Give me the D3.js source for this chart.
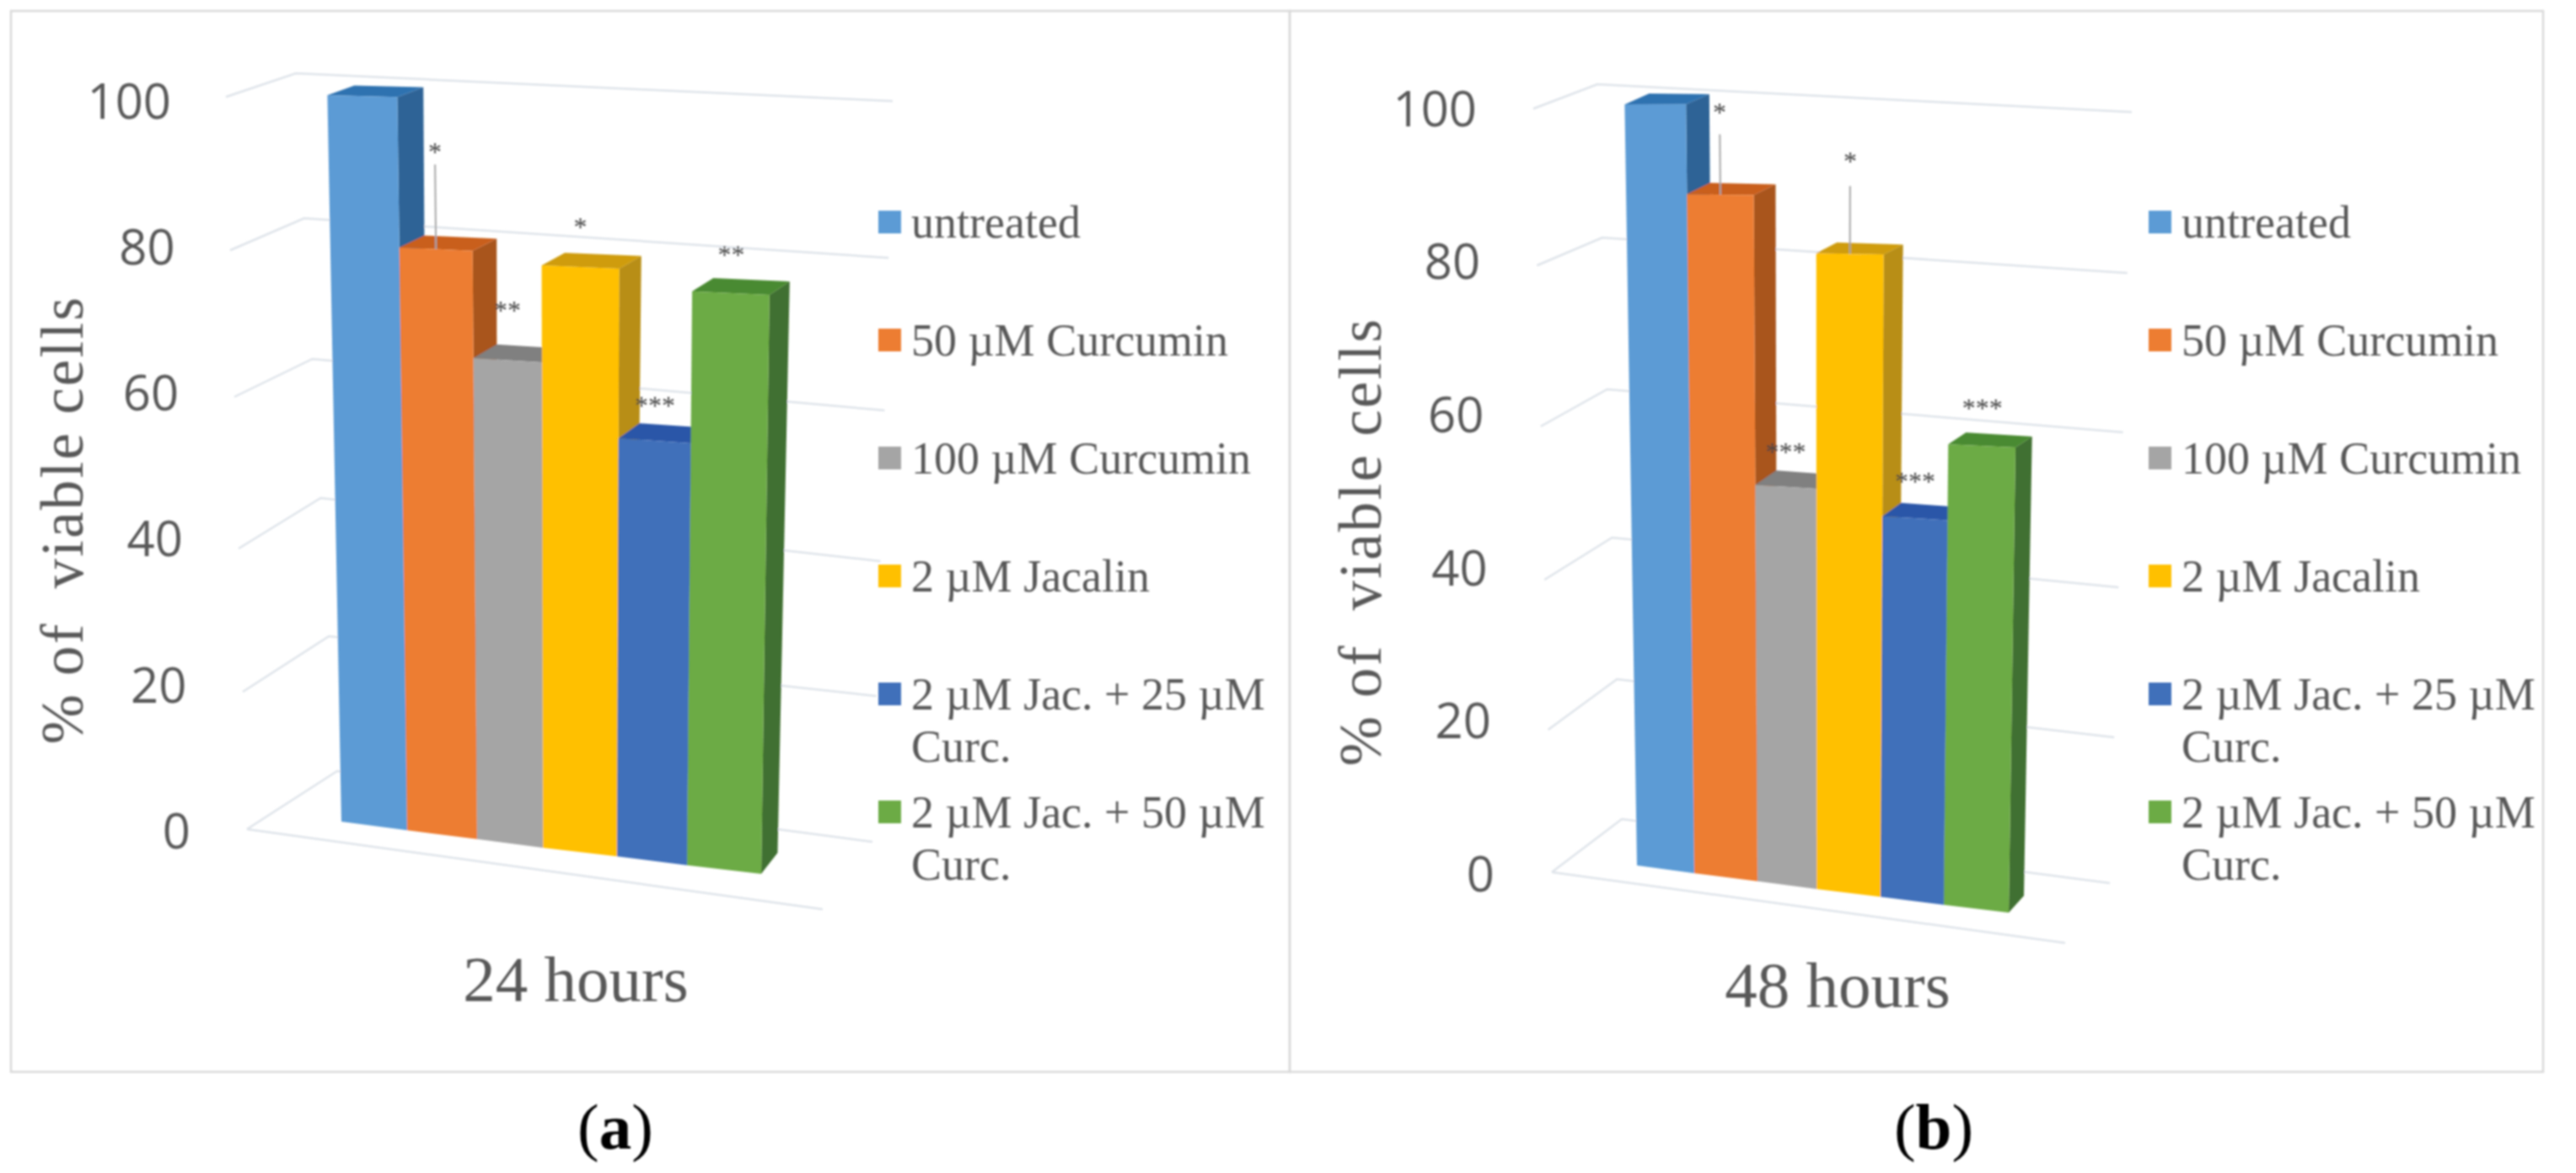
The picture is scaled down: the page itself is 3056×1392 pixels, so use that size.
<!DOCTYPE html>
<html><head><meta charset="utf-8">
<script src="https://cdn.jsdelivr.net/npm/d3@7/dist/d3.min.js"></script>
<style>html,body{margin:0;padding:0;background:#fff;overflow:hidden}svg{display:block}text{white-space:pre}</style>
</head><body><div id="chart"></div>
<script>
const categories = ["untreated","50 µM Curcumin","100 µM Curcumin","2 µM Jacalin","2 µM Jac. + 25 µM\nCurc.","2 µM Jac. + 50 µM\nCurc."];
const colors = ["#5b9bd5","#ed7d31","#a5a5a5","#ffc000","#3f6fba","#6cab45"];
const sideColors = ["#2f6496","#a9551d","#7d7d7d","#b88e14","#2b5499","#417030"];
const topColors = ["#2f72b0","#c95f1c","#808080","#cf9c10","#2c57a8","#4a8a30"];
const valueTicks = [0,20,40,60,80,100];
const values24 = [100,79.5,65,78,55.5,75.5];
const values48 = [100,88.3,51,81,48,57.5];
const stars24 = ["","*","**","*","***","**"];
const stars48 = ["","*","***","*","***","***"];
const starLift24 = [0,13.5,7,5.7,5,5.3];
const starLift48 = [0,11,4.8,12,4.9,5];
const errors24 = [0,11.5,0,0,0,0];
const errors48 = [0,7.8,0,8.6,0,0];
const groupLabels = ["24 hours","48 hours"];
const panelLetters = ["a","b"];

const W=3056,H=1392, GREY="#595959", SERIF="'Liberation Serif',serif", SANS="'Open Sans',sans-serif";
const svg=d3.select("#chart").append("svg").attr("width",W).attr("height",H).attr("viewBox",`0 0 ${W} ${H}`);
const defs=svg.append("defs");
defs.append("filter").attr("id","soft").attr("x","-2%").attr("y","-2%").attr("width","104%").attr("height","104%")
  .append("feGaussianBlur").attr("stdDeviation",1.1);
svg.append("rect").attr("width",W).attr("height",H).attr("fill","#fff");
const root=svg.append("g").attr("filter","url(#soft)");

const lin=(d,r)=>d3.scaleLinear().domain(d).range(r);
const idx=[0,6], pct=[0,100], edges=d3.range(7);
const panels=[
 {values:values24,stars:stars24,lift:starLift24,err:errors24,label:groupLabels[0],letter:panelLetters[0],
  frame:[13,13,1530,1272],
  xBase:lin(edges,[405,483,566,644,732,815,903]),yBase:lin(idx,[975,1037]),unit:lin(idx,[8.62,9.1]),lean:lin(idx,[-16.6,13]),
  dx:lin(idx,[26,19.5]),dxV:.06,dy:lin(idx,[-23.5,-25]),dyV:.12,
  lfx:lin(pct,[293,268]),lfy:lin(valueTicks,[984,821,651,471,297,115]),lbx:lin(pct,[400,351]),lby:lin(valueTicks,[915,755,591,426,259,87]),
  rbx:lin(pct,[1035,1059]),rby:lin(valueTicks,[999,826,666,487,306,120]),floorEnd:[976,1079],
  tickX:lin(pct,[226,203]),tickY:lin(pct,[986,120]),
  titleX:98,titleY:617,swX:1042,legX:1081,catX:683,catY:1163,letX:730},
 {values:values48,stars:stars48,lift:starLift48,err:errors48,label:groupLabels[1],letter:panelLetters[1],
  frame:[1530,13,3017,1272],
  xBase:lin(edges,[1942,2010,2085,2155,2231,2306,2383]),yBase:lin(idx,[1027,1083]),unit:lin(idx,[9.03,9.6]),lean:lin(idx,[-14.6,13.9]),
  dx:lin(idx,[26,18]),dxV:.03,dy:lin(idx,[-25,-20]),dyV:.12,
  lfx:lin(pct,[1841,1819]),lfy:lin(valueTicks,[1035,866,688,506,315,129]),lbx:lin(pct,[1924,1895]),lby:lin(valueTicks,[972,806,638,462,282,100]),
  rbx:lin(pct,[2503,2529]),rby:lin(valueTicks,[1048,875,697,513,324,133]),floorEnd:[2450,1119],
  tickX:lin(pct,[1773,1752]),tickY:lin(pct,[1037,129]),
  titleX:1638,titleY:643,swX:2549,legX:2588,catX:2180,catY:1170,letX:2294}
];
const legendRows=lin([0,5],[264,964]);
const line=d3.line();

panels.forEach(p=>{
 const g=root.append("g");
 g.append("rect").attr("x",p.frame[0]).attr("y",p.frame[1]).attr("width",p.frame[2]-p.frame[0]).attr("height",p.frame[3]-p.frame[1])
  .attr("fill","none").attr("stroke","#d9d9d9").attr("stroke-width",2.5);
 g.selectAll("path.grid").data(valueTicks).join("path").attr("class","grid")
  .attr("d",v=>line([[p.lfx(v),p.lfy(v)],[p.lbx(v),p.lby(v)],[p.rbx(v),p.rby(v)]]))
  .attr("fill","none").attr("stroke","#dfe4ea").attr("stroke-width",2.5);
 g.append("path").attr("d",line([[p.lfx(0),p.lfy(0)],p.floorEnd])).attr("fill","none").attr("stroke","#dfe4ea").attr("stroke-width",2.5);
 g.selectAll("text.tick").data(valueTicks).join("text").attr("class","tick")
  .attr("x",v=>p.tickX(v)).attr("y",v=>p.tickY(v)).attr("dy","0.36em").attr("text-anchor","end")
  .attr("font-family",SANS).attr("font-size",58).attr("fill",GREY).text(d=>d);
 g.append("text").attr("transform",`translate(${p.titleX},${p.titleY}) rotate(-90)`).attr("text-anchor","middle")
  .attr("font-family",SERIF).attr("font-size",71).attr("letter-spacing",2.2).attr("fill",GREY).text("% of  viable cells");
 const proj=(i,v,z)=>{
   const x=p.xBase(i)+p.lean(i)*v/100+z*(p.dx(i)+p.dxV*v);
   const y=p.yBase(i)-p.unit(i)*v+z*(p.dy(i)+p.dyV*v);
   return [x,y];
 };
 const bars=g.selectAll("g.bar").data(p.values).join("g").attr("class","bar");
 bars.append("path").attr("d",(v,i)=>line([proj(i+1,0,0),proj(i+1,v,0),proj(i+1,v,1),proj(i+1,0,1)])+"Z").attr("fill",(v,i)=>sideColors[i]);
 bars.append("path").attr("d",(v,i)=>line([proj(i,v,0),proj(i+1,v,0),proj(i+1,v,1),proj(i,v,1)])+"Z").attr("fill",(v,i)=>topColors[i]);
 bars.append("path").attr("d",(v,i)=>line([proj(i,0,0),proj(i+1,0,0),proj(i+1,v,0),proj(i,v,0)])+"Z").attr("fill",(v,i)=>colors[i]);
 g.selectAll("path.err").data(p.values.map((v,i)=>({v,i})).filter(d=>p.err[d.i]>0)).join("path").attr("class","err")
  .attr("d",d=>line([proj(d.i+.5,d.v,0),proj(d.i+.5,d.v+p.err[d.i],0)])).attr("stroke","#a6a6a6").attr("stroke-width",2);
 g.selectAll("text.star").data(p.values.map((v,i)=>({v,i})).filter(d=>p.stars[d.i])).join("text").attr("class","star")
  .attr("x",d=>proj(d.i+.5,d.v+p.lift[d.i],0)[0]).attr("y",d=>proj(d.i+.5,d.v+p.lift[d.i],0)[1]).attr("dy","0.42em")
  .attr("text-anchor","middle").attr("font-family",SERIF).attr("font-size",32).attr("fill","#444").text(d=>p.stars[d.i]);
 const leg=g.selectAll("g.leg").data(categories).join("g").attr("class","leg");
 leg.append("rect").attr("x",p.swX).attr("y",(d,i)=>legendRows(i)-14).attr("width",27).attr("height",27).attr("fill",(d,i)=>colors[i]);
 leg.each(function(d,i){
  d.split("\n").forEach((s,k)=>d3.select(this).append("text").attr("x",p.legX).attr("y",legendRows(i)+k*62).attr("dy","0.33em")
   .attr("font-family",SERIF).attr("font-size",54).attr("fill",GREY).text(s));
 });
 g.append("text").attr("x",p.catX).attr("y",p.catY).attr("dy","0.33em").attr("text-anchor","middle")
  .attr("font-family",SERIF).attr("font-size",77).attr("fill",GREY).text(p.label);
 const t=g.append("text").attr("x",p.letX).attr("y",1363).attr("text-anchor","middle").attr("font-family",SERIF).attr("font-size",77).attr("fill","#000");
 t.append("tspan").text("(");t.append("tspan").attr("font-weight","bold").text(p.letter);t.append("tspan").text(")");
});
</script></body></html>
